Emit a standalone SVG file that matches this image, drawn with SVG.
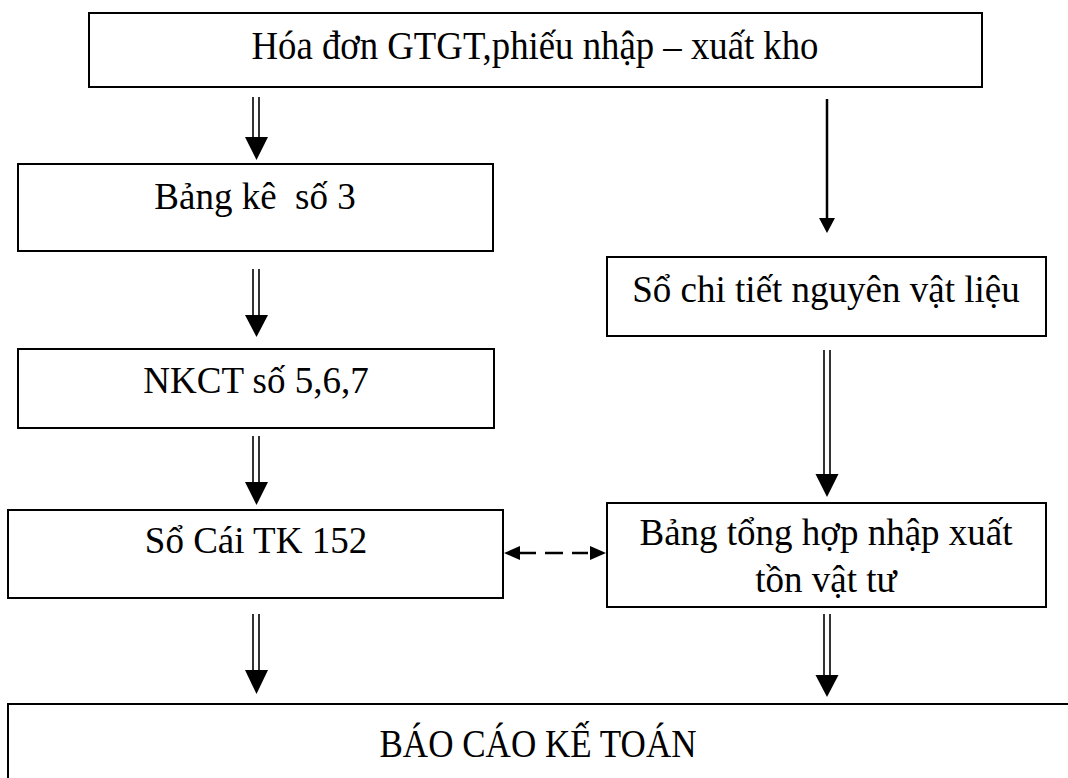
<svg xmlns="http://www.w3.org/2000/svg" width="1068" height="778" viewBox="0 0 1068 778">
<defs>
<style>
.box{fill:#fff;stroke:#000;stroke-width:2}
.t{font-family:"Liberation Serif","Times New Roman",serif;font-size:37px;fill:#000;text-anchor:middle;white-space:pre}
.ln{stroke:#000;stroke-width:1.6;fill:none}
.hd{fill:#000;stroke:none}
</style>
<marker id="dh" markerWidth="16" markerHeight="14" refX="15" refY="7" orient="auto-start-reverse" markerUnits="userSpaceOnUse" viewBox="0 0 16 14"><path d="M0,0 L16,7 L0,14 Z" fill="#000"/></marker>
</defs>
<rect width="1068" height="778" fill="#fff"/>
<g id="n-hoadon"><rect class="box" x="89" y="13" width="893" height="74"/><text class="t" x="535" y="59" style="font-size:39px" textLength="567" lengthAdjust="spacingAndGlyphs">Hóa đơn GTGT,phiếu nhập – xuất kho</text></g>
<g id="n-bangke"><rect class="box" x="18" y="164" width="475" height="87"/><text class="t" x="255" y="209" xml:space="preserve">Bảng kê  số 3</text></g>
<g id="n-nkct"><rect class="box" x="18" y="349" width="476" height="79"/><text class="t" x="256" y="393">NKCT số 5,6,7</text></g>
<g id="n-socai"><rect class="box" x="8" y="510" width="495" height="88"/><text class="t" x="256" y="553">Sổ Cái TK 152</text></g>
<g id="n-sochitiet"><rect class="box" x="607" y="257" width="439" height="79"/><text class="t" x="826" y="302">Sổ chi tiết nguyên vật liệu</text></g>
<g id="n-bangtonghop"><rect class="box" x="607" y="503" width="439" height="104"/><text class="t" x="826" y="545">Bảng tổng hợp nhập xuất</text><text class="t" x="826" y="592">tồn vật tư</text></g>
<g id="n-baocao"><rect class="box" x="8" y="704" width="1080" height="100"/><text class="t" x="538" y="757" style="font-size:39px" textLength="317" lengthAdjust="spacingAndGlyphs">BÁO CÁO KẾ TOÁN</text></g>
<g id="connectors">
<g><line class="ln" x1="253" y1="97" x2="253" y2="140"/><line class="ln" x1="259" y1="97" x2="259" y2="140"/><polygon class="hd" points="245,137 268,137 256.5,160"/></g>
<g><line class="ln" x1="253" y1="269" x2="253" y2="317"/><line class="ln" x1="259" y1="269" x2="259" y2="317"/><polygon class="hd" points="245,315 268,315 256.5,337"/></g>
<g><line class="ln" x1="253" y1="436" x2="253" y2="484"/><line class="ln" x1="259" y1="436" x2="259" y2="484"/><polygon class="hd" points="245,482 268,482 256.5,505"/></g>
<g><line class="ln" x1="253" y1="614" x2="253" y2="672"/><line class="ln" x1="259" y1="614" x2="259" y2="672"/><polygon class="hd" points="245,670 268,670 256.5,694"/></g>
<g><line x1="827" y1="99" x2="827" y2="220" stroke="#000" stroke-width="2.5"/><polygon class="hd" points="819,218 835,218 827,233"/></g>
<g><line class="ln" x1="824" y1="350" x2="824" y2="476"/><line class="ln" x1="830" y1="350" x2="830" y2="476"/><polygon class="hd" points="815.5,474 838.5,474 827,497"/></g>
<g><line class="ln" x1="824" y1="614" x2="824" y2="677"/><line class="ln" x1="830" y1="614" x2="830" y2="677"/><polygon class="hd" points="815.5,675 838.5,675 827,697"/></g>
<line x1="505" y1="553" x2="605" y2="553" stroke="#000" stroke-width="2.5" stroke-dasharray="0,15,16,9,18,9,16,100" marker-start="url(#dh)" marker-end="url(#dh)"/>
</g>
</svg>
